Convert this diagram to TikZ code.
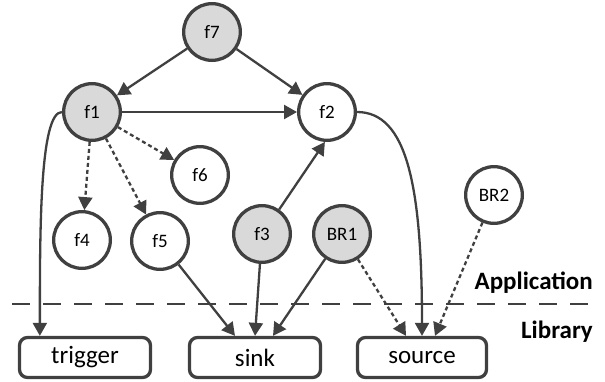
\documentclass[tikz,border=0pt]{standalone}
\usepackage{fontspec}
\setmainfont{Carlito}
\usetikzlibrary{arrows.meta}
\definecolor{ln}{HTML}{404040}
\definecolor{gf}{HTML}{D9D9D9}
\begin{document}
\begin{tikzpicture}[x=1pt,y=-1pt,
 fn/.style={circle,draw=ln,line width=3.3pt,minimum size=56.7pt,inner sep=0pt,outer sep=1.65pt,font=\fontsize{19}{22}\selectfont},
 hot/.style={fn,fill=gf},
 lib/.style={draw=ln,line width=3.3pt,rounded corners=8pt,minimum height=40pt,inner sep=0pt,outer sep=1.65pt,font=\fontsize{25}{30}\selectfont},
 conn/.style={draw=ln,line width=2.3pt,-{Triangle[length=13pt,width=14pt]}},
 dep/.style={conn,dash pattern=on 4pt off 3pt},
 sepline/.style={draw=ln,line width=2.5pt,dash pattern=on 18pt off 13pt},
 lbl/.style={font=\fontsize{25}{30}\selectfont\bfseries,anchor=base east,inner sep=0pt}
]
\useasboundingbox (0,0) rectangle (605,381);
\coordinate (sepL) at (12,304);
\coordinate (sepR) at (596,304);
\draw[sepline] (sepL) -- (sepR);
\node[lbl] (app) at (593,289) {Application};
\node[lbl] (lib) at (593,338) {Library};

\node[hot] (f7) at (212,32) {f7};
\node[hot] (f1) at (92,112) {f1};
\node[fn] (f2) at (327,112) {f2};
\node[fn] (f6) at (200,175) {f6};
\node[fn] (f4) at (82,240) {f4};
\node[fn] (f5) at (160,241) {f5};
\node[hot] (f3) at (262,234) {f3};
\node[hot] (BR1) at (342,234) {BR1};
\node[fn] (BR2) at (494,195) {BR2};

\node[lib,minimum width=131pt] (trigger) at (85,357.5) {trigger};
\node[lib,minimum width=131pt] (sink) at (255,357.5) {sink};
\node[lib,minimum width=129pt] (source) at (422,357.5) {source};

\draw[conn] (f7) -- (f1);
\draw[conn] (f7) -- (f2);
\draw[conn] (f1) -- (f2);
\draw[dep] (f1) -- (f4);
\draw[dep] (f1) -- (f5);
\draw[dep] (f1) -- (f6);
\draw[conn] (f3.55) -- (f2.266);
\draw[conn] (f1.west) .. controls +(-22,0) and +(0,-110) .. ([xshift=22pt]trigger.north west);
\draw[conn] (f2.east) .. controls +(50,0) and +(0,-150) .. (source.north);
\draw[conn] (f5) -- ([xshift=-20pt]sink.north);
\draw[conn] (f3) -- (sink.north);
\draw[conn] (BR1) -- ([xshift=18pt]sink.north);
\draw[dep] (BR1) -- ([xshift=-16pt]source.north);
\draw[dep] (BR2) -- ([xshift=13pt]source.north);
\end{tikzpicture}
\end{document}
